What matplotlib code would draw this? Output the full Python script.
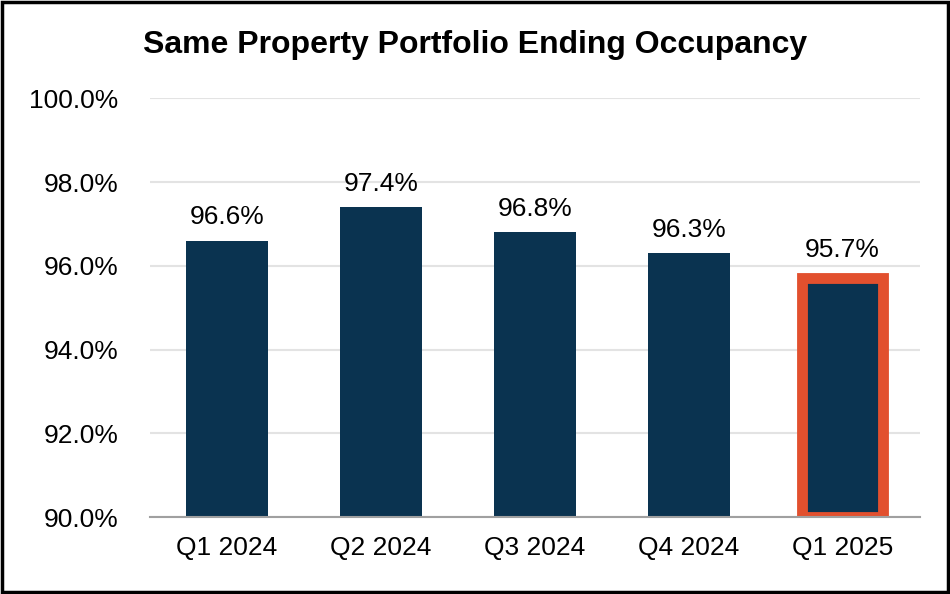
import matplotlib
matplotlib.use("Agg")
import matplotlib.pyplot as plt
from matplotlib.patches import Rectangle

categories = ["Q1 2024", "Q2 2024", "Q3 2024", "Q4 2024", "Q1 2025"]
values = [96.6, 97.4, 96.8, 96.3, 95.7]
labels = ["96.6%", "97.4%", "96.8%", "96.3%", "95.7%"]
yticks = [90, 92, 94, 96, 98, 100]
ytick_labels = ["90.0%", "92.0%", "94.0%", "96.0%", "98.0%", "100.0%"]
title = "Same Property Portfolio Ending Occupancy"

plt.rcParams['font.family'] = ['Liberation Sans', 'DejaVu Sans']

navy = "#0A3350"
orange = "#E2502E"

fig = plt.figure(figsize=(9.5, 5.94), dpi=100)
ax = fig.add_axes([0.158, 0.1296, 0.81, 0.705])

x = list(range(len(categories)))
bars = ax.bar(x, [v - 90 for v in values], bottom=90, width=0.53, color=navy, zorder=3)
last = bars[-1]
last.set_edgecolor(orange)
last.set_linewidth(7.8)

for xi, v, lab in zip(x, values, labels):
    off = 0.27 if xi < len(x) - 1 else 0.40
    ax.text(xi, v + off, lab, ha='center', va='bottom', fontsize=19, color='black')

ax.set_ylim(90, 100)
ax.set_xlim(-0.5, len(categories) - 0.5)
ax.set_yticks(yticks)
ax.set_yticklabels(ytick_labels, fontsize=19)
ax.set_xticks(x)
ax.set_xticklabels(categories, fontsize=19)
ax.tick_params(axis='x', length=0, pad=14)
ax.tick_params(axis='y', length=0, pad=23)
ax.grid(axis='y', color='#E3E3E3', linewidth=1.5, zorder=0)
for s in ['top', 'right', 'left']:
    ax.spines[s].set_visible(False)
ax.spines['bottom'].set_color('#A0A0A0')
ax.spines['bottom'].set_linewidth(1.5)
ax.spines['bottom'].set_zorder(4)

fig.text(0.5, 0.9108, title, ha='center', va='baseline', fontsize=23, fontweight='bold')

fig.patches.append(Rectangle((0.002, 0.003), 0.996, 0.994, transform=fig.transFigure,
                             fill=False, edgecolor='black', linewidth=2.5))

fig.savefig("out.png", dpi=100)
